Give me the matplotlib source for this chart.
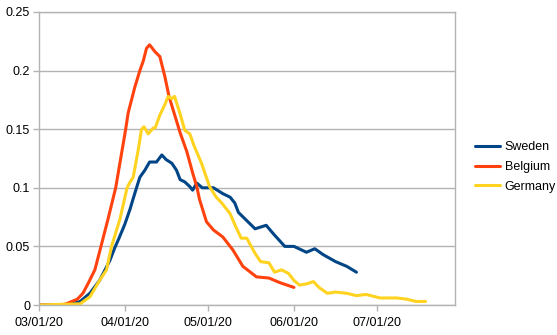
import matplotlib
matplotlib.use("Agg")
import matplotlib.pyplot as plt
import numpy as np

# days after 2020-03-01 and values
sweden_days = [0, 10, 15, 18.5, 22, 25.7, 27.5, 29, 31.1, 33, 34, 35.3, 36.5, 38.3, 40, 42.5, 44.4,
               46, 48, 49.7, 51, 52.7, 54.5, 55.5, 57, 59, 63, 66.4, 69, 70.7, 72, 75, 78, 82,
               84.5, 88.7, 92, 96.5, 99.5, 102.5, 107, 111, 114.5]
sweden_vals = [0, 0, 0.003, 0.01, 0.021, 0.038, 0.049, 0.057, 0.069, 0.082, 0.09, 0.1, 0.109,
               0.115, 0.122, 0.122, 0.128, 0.124, 0.121, 0.115, 0.107, 0.105, 0.101, 0.098,
               0.104, 0.1, 0.1, 0.095, 0.092, 0.087, 0.079, 0.072, 0.065, 0.068, 0.061, 0.05,
               0.05, 0.045, 0.048, 0.043, 0.037, 0.033, 0.028]

belgium_days = [0, 8, 10, 12, 14, 16, 18, 20.3, 22.5, 25, 27.8, 29.6, 31.4, 32.3, 34.7, 36.5,
                37.7, 38.9, 40, 42, 43.7, 45.5, 47, 51, 53.4, 55.6, 57, 58, 60.5, 63, 66.4, 70,
                73.6, 78.5, 83, 87, 92]
belgium_vals = [0, 0, 0.001, 0.003, 0.005, 0.01, 0.019, 0.03, 0.05, 0.073, 0.1, 0.125, 0.15,
                0.164, 0.186, 0.2, 0.208, 0.219, 0.222, 0.216, 0.212, 0.195, 0.178, 0.147,
                0.131, 0.112, 0.101, 0.09, 0.071, 0.064, 0.058, 0.047, 0.033, 0.024, 0.023,
                0.019, 0.015]

germany_days = [0, 15, 18.5, 22, 24.5, 26.3, 29.3, 31.9, 33, 34.1, 35.9, 37.1, 38, 39.5, 41.3,
                42, 43.7, 45.7, 46.7, 48, 49, 51, 52.7, 54.5, 56, 58.7, 61.6, 64, 66, 69, 71,
                73, 75, 78, 80, 83, 85, 87.5, 90, 92, 94, 96.5, 99, 101, 104, 107, 111, 114.5,
                118, 123, 129, 132.5, 136, 139.4]
germany_vals = [0, 0.001, 0.007, 0.021, 0.03, 0.05, 0.073, 0.1, 0.105, 0.109, 0.132, 0.15, 0.152,
                0.146, 0.151, 0.151, 0.162, 0.172, 0.178, 0.176, 0.178, 0.163, 0.149, 0.146,
                0.136, 0.121, 0.101, 0.092, 0.087, 0.078, 0.067, 0.057, 0.057, 0.044, 0.037,
                0.036, 0.028, 0.030, 0.027, 0.021, 0.017, 0.018, 0.020, 0.015, 0.010, 0.011,
                0.010, 0.008, 0.009, 0.006, 0.006, 0.005, 0.003, 0.003]

series = [("Sweden", sweden_days, sweden_vals, "#004586"),
          ("Belgium", belgium_days, belgium_vals, "#ff420e"),
          ("Germany", germany_days, germany_vals, "#ffd320")]

start = np.datetime64("2020-03-01")
tick_labels = ["03/01/20", "04/01/20", "05/01/20", "06/01/20", "07/01/20"]
tick_dates = [np.datetime64(f"2020-{m:02d}-01") for m in range(3, 8)]

plt.rcParams["font.family"] = ["Liberation Sans", "DejaVu Sans"]
plt.rcParams["font.size"] = 9

fig = plt.figure(figsize=(5.57, 3.35), dpi=100)
ax = fig.add_axes([38.5 / 557, 1 - 305 / 335, (455 - 38.5) / 557, (305 - 12) / 335])

for name, days, vals, color in series:
    dates = start + (np.array(days) * 24 * 60).astype("timedelta64[m]")
    ax.plot(dates, vals, color=color, lw=2.2, label=name, solid_capstyle="round")

grid_c = "#b3b3b3"
ax.set_ylim(0, 0.25)
ax.set_yticks([0, 0.05, 0.1, 0.15, 0.2, 0.25])
ax.set_yticklabels(["0", "0.05", "0.1", "0.15", "0.2", "0.25"])
ax.set_xlim(start, start + np.timedelta64(150, "D"))
ax.set_xticks(tick_dates)
ax.set_xticklabels(tick_labels)
ax.grid(axis="y", color=grid_c, lw=1)
ax.set_axisbelow(True)
for s in ax.spines.values():
    s.set_color(grid_c)
    s.set_linewidth(1)
ax.tick_params(axis="both", color=grid_c, length=4, width=1, pad=2, labelcolor="black")
ax.tick_params(axis="x", pad=5)

ax.legend(loc="center left", bbox_to_anchor=(1.02, 0.471), frameon=False,
          handlelength=2.0, handletextpad=0.4, labelspacing=0.62, fontsize=9)

fig.savefig("out.png", dpi=100)
